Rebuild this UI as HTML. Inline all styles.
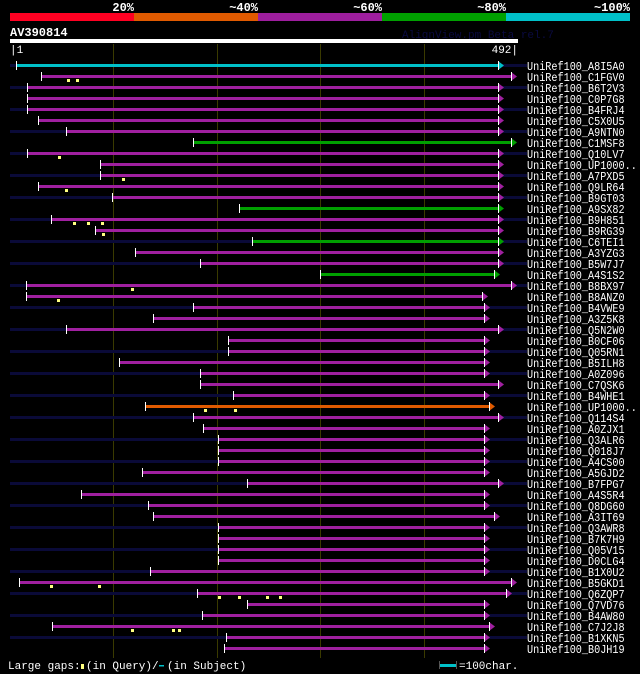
<!DOCTYPE html>
<html><head><meta charset="utf-8"><style>
body{margin:0;background:#000;width:640px;height:674px;overflow:hidden;font-family:"Liberation Mono","DejaVu Sans Mono",monospace;}
svg{display:block}
</style></head><body>
<svg id="chart" width="640" height="674" xmlns="http://www.w3.org/2000/svg" shape-rendering="crispEdges">
<g>
<rect x="10" y="13" width="124" height="8" fill="#ff0022"/>
<rect x="134" y="13" width="124" height="8" fill="#e05a00"/>
<rect x="258" y="13" width="124" height="8" fill="#9e1e9e"/>
<rect x="382" y="13" width="124" height="8" fill="#00a000"/>
<rect x="506" y="13" width="124" height="8" fill="#00c0c8"/>
<g fill="#fff" font-size="12" font-weight="bold" text-anchor="end">
<text x="134" y="11">20%</text><text x="258" y="11">~40%</text><text x="382" y="11">~60%</text><text x="506" y="11">~80%</text><text x="630" y="11">~100%</text>
</g></g>
<text x="10" y="36" fill="#fff" font-size="12" font-weight="bold">AV390814</text>
<text x="402" y="38" fill="#0a0a40" font-size="11">AlignView.pm Beta rel.7</text>
<rect x="10" y="39" width="508" height="4" fill="#fff"/>
<text x="10" y="53" fill="#fff" font-size="11">|1</text>
<text x="518" y="53" fill="#fff" font-size="11" text-anchor="end">492|</text>
<g id="grid"></g><g id="rows"></g>
<g fill="#fff" font-size="11">
<text x="8" y="669">Large gaps:</text>
<rect x="81" y="664" width="3" height="5" fill="#ffff80"/>
<text x="86" y="669">(in Query)/</text>
<rect x="159" y="665" width="5" height="1.5" fill="#00c0c8"/>
<text x="167" y="669">(in Subject)</text>
<rect x="440" y="664" width="17" height="3" fill="#00c0c8"/>
<rect x="439" y="661" width="1" height="8" fill="#555"/><rect x="456" y="661" width="1" height="8" fill="#555"/>
<text x="459" y="669">=100char.</text>
</g>
</svg>
<script>
const labels=["A8I5A0","C1FGV0","B6T2V3","C0P7G8","B4FRJ4","C5X0U5","A9NTN0","C1MSF8","Q10LV7","UP1000..","A7PXD5","Q9LR64","B9GT03","A9SX82","B9H851","B9RG39","C6TEI1","A3YZG3","B5W7J7","A4S1S2","B8BX97","B8ANZ0","B4VWE9","A3Z5K8","Q5N2W0","B0CF06","Q05RN1","B5ILH8","A0Z096","C7QSK6","B4WHE1","UP1000..","Q114S4","A0ZJX1","Q3ALR6","Q018J7","A4CS00","A5GJD2","B7FPG7","A4S5R4","Q8DG60","A3IT69","Q3AWR8","B7K7H9","Q05V15","D0CLG4","B1X0U2","B5GKD1","Q6ZQP7","Q7VD76","B4AW80","C7J2J8","B1XKN5","B0JH19"];
// alignment start/end in query residues (1..492)
const starts=[7,31,17,17,17,28,55,178,17,88,88,28,100,222,41,83,235,122,185,301,16,16,178,139,55,212,212,106,185,185,217,131,178,188,202,202,202,129,230,70,134,139,202,202,202,202,136,10,182,230,187,42,210,208];
const ends=[473,485,473,473,473,473,473,485,473,473,473,473,473,473,473,473,473,473,473,469,485,457,459,459,473,459,459,459,459,473,459,464,473,459,459,459,459,459,473,459,459,469,459,459,459,459,459,485,480,459,459,464,459,459];
const colors=["c","m","m","m","m","m","m","g","m","m","m","m","m","g","m","m","g","m","m","g","m","m","m","m","m","m","m","m","m","m","m","o","m","m","m","m","m","m","m","m","m","m","m","m","m","m","m","m","m","m","m","m","m","m"];
const queryGaps=[[],[57,66],[],[],[],[],[],[],[48],[],[110],[55],[],[],[63,76,90],[91],[],[],[],[],[119],[47],[],[],[],[],[],[],[],[],[],[189,218],[],[],[],[],[],[],[],[],[],[],[],[],[],[],[],[41,87],[203,222,249,262],[],[],[119,159,164],[],[]];
const palette={c:"#00c0c8",m:"#a020a0",g:"#00a000",o:"#e05a00"};
const x0=10,x1=518,qlen=492;
const xs=v=>Math.round(x0+(v-1)*(x1-x0)/(qlen-1));
const yRow=i=>65+i*11;
const NS="http://www.w3.org/2000/svg";
function mk(t,a,p){const e=document.createElementNS(NS,t);for(const k in a)e.setAttribute(k,a[k]);p.appendChild(e);return e;}
const grid=document.getElementById('grid');
[101,201,301,401].forEach(v=>{
 const l=mk('rect',{x:xs(v),y:44,width:1,height:614,fill:'#3a3a00'},grid);
 
 
});
const rows=document.getElementById('rows');
labels.forEach((lab,i)=>{
 const y=yRow(i);
 const g=mk('g',{},rows);
 
 
 if(i%2===0) mk('rect',{x:10,y:y-1,width:517,height:3,fill:'#0a0a38'},g);
 const c=palette[colors[i]];
 const sx=xs(starts[i]),ex=xs(ends[i]);
 mk('rect',{x:sx,y:y-1,width:ex-sx,height:3,fill:c},g);
 mk('polygon',{points:`${ex},${y-4} ${ex+6},${y+0.5} ${ex},${y+5}`,fill:c,'shape-rendering':'auto'},g);
 mk('rect',{x:ex,y:y-4,width:1,height:9,fill:'#fff'},g);
 mk('rect',{x:sx,y:y-4,width:1,height:9,fill:'#fff'},g);
 queryGaps[i].forEach(q=>{mk('rect',{x:xs(q)-1,y:y+3,width:3,height:3,fill:'#ffff80'},g);});
 const t=mk('text',{x:527,y:y+5,fill:'#fff','font-size':'12',textLength:String(lab.length*6.1+61),lengthAdjust:'spacingAndGlyphs'},g);
 t.textContent='UniRef100_'+lab;
 
 
});
</script>
</body></html>
